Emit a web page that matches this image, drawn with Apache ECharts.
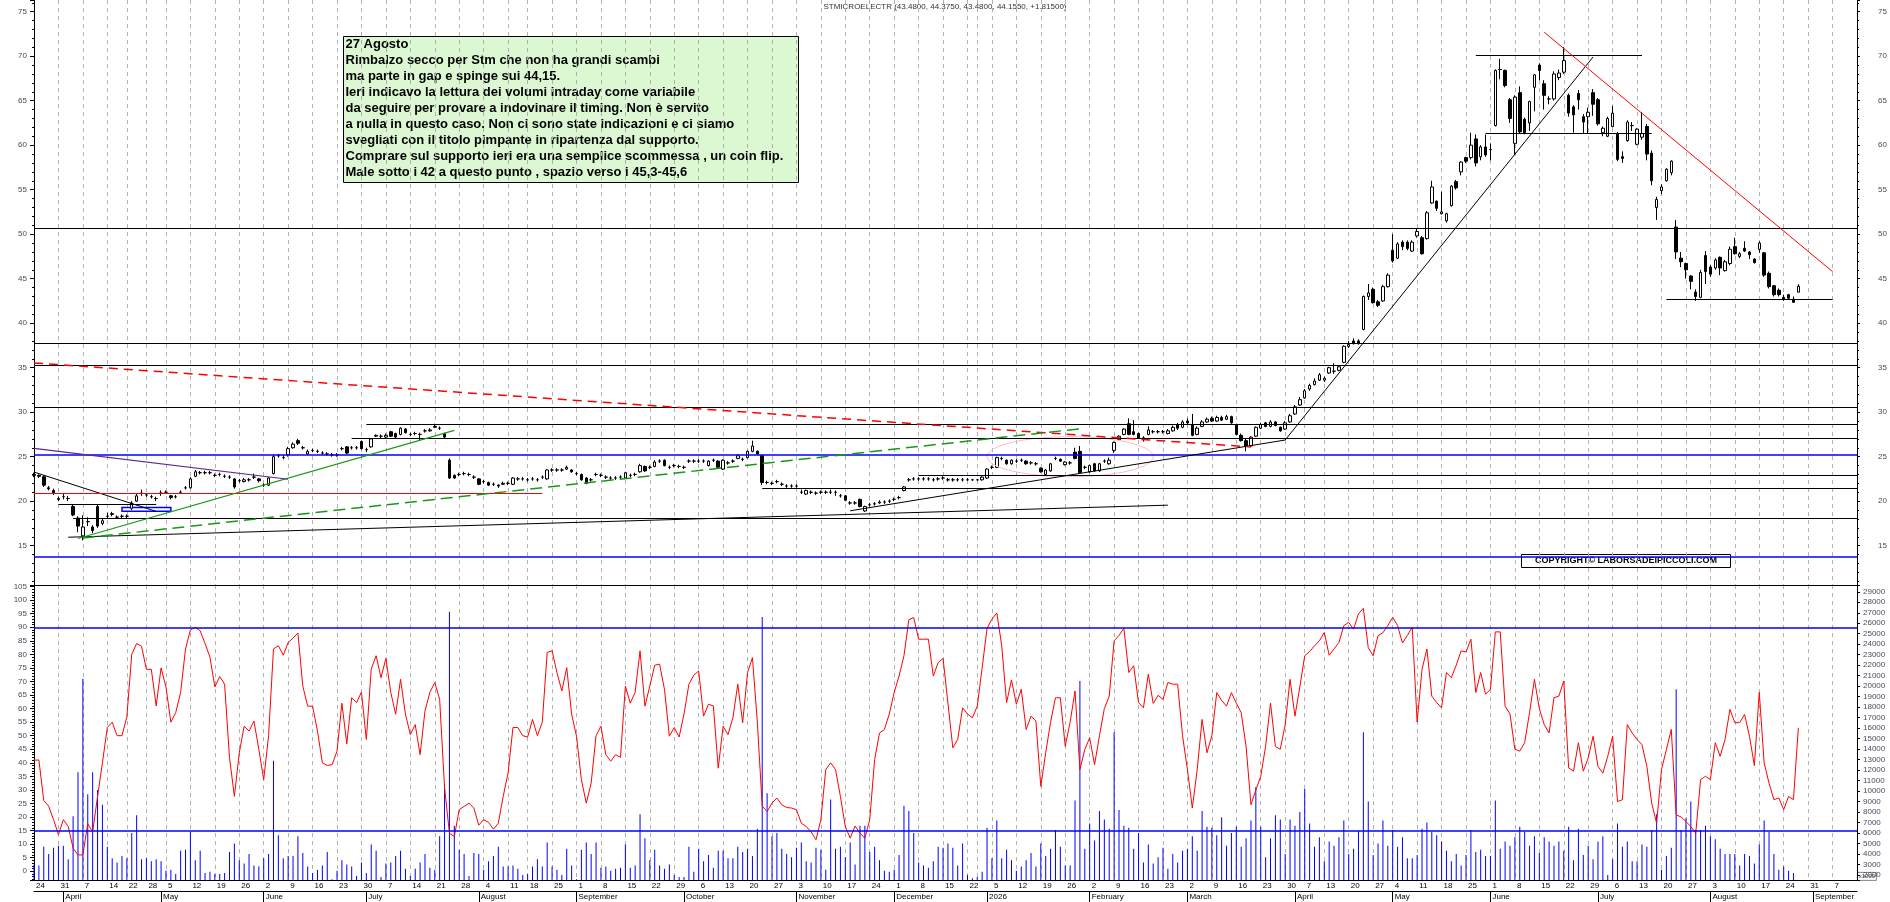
<!DOCTYPE html>
<html>
<head>
<meta charset="utf-8">
<title>STMICROELECTR</title>
<script src="https://cdn.jsdelivr.net/npm/echarts@6/dist/echarts.min.js"></script>
<style>
html, body { margin: 0; padding: 0; background: #fff; }
#chart { width: 1890px; height: 902px; }
</style>
</head>
<body>
<div id="chart"></div>
<script>
'use strict'
// trading calendar
var firstDay = [2025, 2, 24];
var lastDay = [2026, 8, 14];
var holidays = ['2025-04-18', '2025-04-21', '2025-05-01', '2025-08-15', '2025-12-24', '2025-12-25',
    '2025-12-26', '2025-12-31', '2026-01-01', '2026-04-03', '2026-04-06', '2026-05-01'];
var monthNames = ['January', 'February', 'March', 'April', 'May', 'June', 'July', 'August',
    'September', 'October', 'November', 'December'];

// daily candles: open, close, low, high
var price2025 = [
    [23.0,22.9,22.7,23.2],[22.9,22.8,22.6,23.0],[22.75,21.8,21.6,22.9],[21.5,21.4,21.2,21.7],[21.2,20.9,20.7,21.4],
    [20.3,20.2,20.0,20.5],[20.5,20.5,20.2,20.8],[20.3,20.3,20.0,20.6],[19.4,18.45,18.3,19.6],[18.1,17.2,16.5,18.3],
    [16.1,17.1,15.6,18.4],[17.7,17.7,17.2,18.2],[17.1,16.7,16.4,17.3],[19.4,17.2,17.0,19.6],[17.5,17.8,17.3,18.0],
    [18.3,18.3,18.0,18.7],[18.5,18.6,18.3,18.8],[18.2,18.2,18.0,18.4],[18.3,18.3,18.1,18.5],[18.3,18.3,18.1,18.5],
    [19.2,19.8,19.0,20.0],[20.0,20.6,19.9,20.8],[20.9,20.9,20.6,21.3],[20.7,20.7,20.5,20.9],[20.5,20.5,20.3,20.7],
    [20.3,20.3,20.0,20.5],[20.9,20.9,20.6,21.2],[21.0,21.0,20.8,21.2],[20.6,20.4,20.2,20.7],[20.5,20.5,20.3,20.7],
    [21.0,21.0,20.8,21.2],[21.5,21.5,21.3,21.7],[21.5,22.5,21.4,22.7],[22.8,23.3,22.7,23.5],[23.2,23.2,23.0,23.4],
    [23.2,23.2,23.0,23.4],[23.2,23.2,23.0,23.4],[22.9,22.9,22.7,23.1],[23.0,23.0,22.8,23.2],[22.8,22.8,22.6,23.0],
    [22.7,22.7,22.5,22.9],[22.5,21.6,21.4,22.6],[22.3,22.3,22.1,22.5],[22.2,22.4,22.1,22.6],[22.4,22.4,22.2,22.6],
    [22.7,22.7,22.5,23.1],[22.5,22.3,22.1,22.6],[21.8,21.8,21.6,22.0],[21.8,22.6,21.7,22.7],[23.1,25.0,23.0,25.2],
    [25.1,25.1,24.9,25.3],[24.9,24.9,24.7,25.2],[25.2,25.9,25.0,26.1],[26.0,26.4,25.9,26.6],[26.8,26.5,26.3,27.0],
    [26.0,26.0,25.8,26.2],[25.3,25.6,25.2,25.8],[25.7,25.7,25.5,25.9],[25.6,25.6,25.4,25.8],[25.4,25.4,25.2,25.6],
    [25.3,25.3,25.1,25.5],[25.2,25.2,25.0,25.4],[25.2,25.2,25.0,25.4],[25.9,25.9,25.7,26.1],[26.1,25.4,25.3,26.2],
    [26.0,26.0,25.8,26.2],[26.0,26.0,25.8,26.2],[26.7,25.9,25.8,26.8],[25.8,25.8,25.5,26.0],[26.1,27.0,26.0,27.1],
    [27.3,27.4,27.2,27.5],[27.3,27.3,27.1,27.5],[27.2,27.4,27.1,27.6],[27.8,27.3,27.2,27.9],[27.6,27.2,27.1,27.7],
    [27.5,28.2,27.4,28.3],[28.1,27.7,27.6,28.2],[27.5,27.5,27.3,27.7],[27.6,27.6,27.4,27.8],[27.5,27.5,26.8,27.7],
    [27.9,27.9,27.7,28.1],[27.9,28.0,27.8,28.2],[28.3,28.4,28.2,28.7],[28.2,28.2,28.0,28.4],[27.6,27.2,27.1,27.7],
    [24.6,22.6,22.5,24.8],[22.9,22.6,22.5,23.0],[23.0,23.0,22.8,23.2],[23.1,23.1,22.9,23.3],[23.0,23.0,22.8,23.2],
    [22.7,22.7,22.5,22.9],[22.5,21.9,21.8,22.6],[22.2,22.2,22.0,22.4],[22.1,21.8,21.7,22.2],[21.9,21.9,21.7,22.1],
    [21.8,21.7,21.5,21.9],[21.9,22.0,21.8,22.2],[22.0,22.0,21.8,22.2],[21.9,22.6,21.8,22.7],[22.5,22.5,22.3,22.7],
    [22.5,22.5,22.3,22.7],[22.4,22.4,22.2,22.6],[22.5,22.5,22.3,22.7],[22.4,22.4,22.2,22.6],[22.7,22.7,22.5,22.9],
    [22.5,23.5,22.4,23.6],[23.5,23.5,23.3,23.7],[23.5,23.5,23.3,23.7],[23.5,23.5,23.3,23.7],[23.6,23.8,23.5,24.0],
    [23.5,23.3,23.2,23.6],[23.1,23.1,22.9,23.3],[23.0,22.4,22.3,23.1],[22.6,22.0,21.9,22.7],[22.4,22.4,22.2,22.6],
    [23.0,23.0,22.8,23.2],[22.9,22.9,22.7,23.1],[22.7,22.7,22.5,22.9],[22.6,22.6,22.4,22.8],[22.6,22.6,22.4,22.8],
    [22.7,22.7,22.5,22.9],[22.6,23.2,22.5,23.3],[22.9,22.9,22.7,23.1],[23.0,23.0,22.8,23.2],[23.3,24.0,23.2,24.2],
    [23.9,23.4,23.3,24.0],[23.8,23.8,23.6,24.0],[23.9,24.4,23.8,24.6],[24.5,24.5,24.3,24.7],[24.6,24.0,23.9,24.7],
    [23.8,23.8,23.6,24.0],[24.0,24.0,23.8,24.2],[23.9,23.9,23.7,24.1],[23.8,23.8,23.6,24.0],[24.5,24.5,24.3,24.7],
    [24.5,24.5,24.3,24.7],[24.5,24.5,24.3,24.7],[24.5,24.5,24.3,24.7],[24.0,24.5,23.9,24.6],[24.6,24.6,24.4,24.8],
    [24.5,23.8,23.7,24.6],[23.6,24.6,23.5,24.7],[24.3,24.3,24.1,24.5],[24.5,24.5,24.3,24.7],[24.8,25.1,24.7,25.3],
    [24.7,24.7,24.5,24.9],[24.9,25.6,24.8,25.7],[25.6,26.2,25.5,26.8],[25.6,25.3,25.2,25.7],[25.1,22.1,21.8,25.2],
    [22.1,22.1,21.9,22.3],[22.0,22.0,21.8,22.2],[22.2,22.2,22.0,22.4],[21.9,21.9,21.7,22.1],[21.7,21.7,21.5,21.9],
    [21.7,21.7,21.5,21.9],[21.7,21.7,21.5,21.9],[21.0,21.0,20.8,21.3],[20.8,21.2,20.7,21.3],[21.0,21.0,20.8,21.2],
    [20.9,20.9,20.7,21.1],[21.0,21.0,20.8,21.2],[21.0,21.0,20.8,21.2],[21.0,21.0,20.8,21.3],[21.0,21.0,20.6,21.2],
    [20.6,20.6,20.4,20.8],[20.6,20.1,20.0,20.7],[19.8,19.8,19.6,20.0],[19.8,19.8,19.6,20.0],[20.2,19.4,19.3,20.3],
    [18.9,19.4,18.8,19.5],[19.6,19.6,19.4,19.8],[19.7,19.7,19.5,19.9],[19.8,19.9,19.7,20.1],[19.9,19.9,19.7,20.1],
    [20.0,20.0,19.8,20.2],[20.2,20.2,20.0,20.4],[20.4,20.4,20.2,20.6],[21.2,21.6,21.1,21.7],[22.4,22.4,22.2,22.6],
    [22.5,22.5,22.3,22.7],[22.5,22.5,22.3,22.7],[22.5,22.5,22.3,22.7],[22.5,22.5,22.3,22.7],[22.4,22.4,22.2,22.6],
    [22.5,22.5,22.3,22.7],[22.6,22.6,22.4,22.8],[22.4,22.4,22.2,22.6],[22.4,22.4,22.2,22.6],[22.4,22.4,22.2,22.6],
    [22.4,22.4,22.2,22.6],[22.4,22.4,22.3,22.6],[22.4,22.4,22.3,22.5],[22.4,22.4,22.3,22.5],[22.4,22.7,22.3,22.8]
];
var price2026 = [
    [22.6,23.6,22.5,23.7],[23.8,23.8,23.6,24.0],[23.8,24.9,23.7,25.0],[24.8,24.8,24.6,25.0],[24.6,24.2,24.1,24.7],
    [24.2,24.6,24.1,24.7],[24.5,24.5,24.3,24.7],[24.6,24.6,24.4,24.8],[24.5,24.2,24.1,24.6],[24.3,24.3,24.1,24.5],
    [24.2,24.2,24.0,24.4],[23.7,23.3,23.2,23.8],[23.0,23.5,22.9,23.6],[23.4,24.2,23.3,24.3],[24.8,24.8,24.6,25.0],
    [24.7,24.5,24.4,24.8],[24.1,24.4,24.0,24.5],[24.3,24.3,24.1,24.5],[25.5,24.8,24.7,26.0],[25.6,23.2,23.1,26.2],
    [23.8,23.8,23.6,24.0],[23.3,24.0,23.2,24.1],[24.2,23.4,23.3,24.3],[23.4,24.2,23.3,24.3],[24.5,24.5,24.3,24.7],
    [24.2,24.6,24.1,24.9],[25.7,26.6,25.4,26.7],[26.9,27.3,26.8,27.4],[27.5,28.1,27.4,28.2],[28.7,27.5,27.4,29.3],
    [27.8,27.5,27.4,29.1],[27.6,27.1,27.0,27.7],[27.1,27.1,26.7,27.3],[27.5,28.0,27.4,28.4],[27.8,27.8,27.6,28.0],
    [27.8,27.8,27.6,28.0],[27.8,27.8,27.6,28.0],[27.6,27.9,27.5,28.1],[27.9,28.3,27.8,28.5],[28.6,28.2,28.0,28.8],
    [28.3,28.9,28.2,29.1],[29.0,28.8,28.6,29.3],[28.6,27.4,27.3,29.8],[27.5,28.2,27.4,28.4],[28.4,28.9,28.3,29.1],
    [28.9,29.2,28.8,29.4],[29.3,29.0,28.9,29.5],[29.0,29.4,28.9,29.6],[29.4,29.1,29.0,29.6],[29.2,29.5,29.1,29.7],
    [29.5,28.8,28.7,29.6],[28.6,27.5,27.4,28.7],[27.4,26.8,26.7,27.6],[26.8,26.2,25.6,27.0],[26.2,27.2,26.1,27.3],
    [27.3,28.3,27.2,28.4],[28.2,28.6,28.1,28.8],[28.8,28.4,28.3,28.9],[28.4,28.9,28.3,29.1],[28.9,28.5,28.4,29.0],
    [28.3,27.9,27.8,28.4],[28.1,28.8,28.0,29.0],[28.9,29.6,28.8,29.8],[29.8,30.6,29.7,30.8],[30.8,31.4,30.7,31.7],
    [31.6,32.4,31.5,32.6],[32.6,33.0,32.4,33.2],[33.1,33.5,33.0,33.8],[33.6,34.2,33.5,34.4],[33.6,33.8,33.4,34.0],
    [34.4,35.0,34.3,35.1],[34.6,34.6,34.3,35.5],[34.7,35.1,34.6,35.2],[35.6,37.4,35.5,37.5],[37.4,37.6,37.2,38.0],
    [38.0,37.7,37.6,38.3],[38.0,37.7,37.6,38.2],[39.3,43.0,39.2,43.1],[43.0,43.4,42.6,44.4],[43.8,42.3,42.2,44.0],
    [42.4,42.0,41.8,42.6],[42.5,44.1,42.4,44.3],[44.1,45.4,44.0,45.6],[48.2,47.0,46.8,50.0],[47.3,48.9,47.2,49.1],
    [49.1,48.6,48.2,49.3],[49.1,48.4,48.2,49.3],[48.1,49.1,48.0,49.3],[49.8,50.3,49.6,50.6],[49.6,47.8,47.7,49.8],
    [49.5,52.4,49.4,52.6],[53.5,55.3,53.4,56.0],[53.7,52.9,52.6,53.8],[52.3,52.5,52.2,54.8],[51.5,52.3,51.3,52.4],
    [53.2,55.4,53.1,55.5],[55.9,55.2,55.0,56.1],[57.0,58.1,56.6,58.2],[58.6,58.2,58.0,58.7],[58.6,60.0,58.4,61.4],
    [60.7,58.0,57.6,61.2],[58.7,59.8,58.3,60.0],[59.8,58.9,58.7,61.2],[59.5,59.5,58.3,60.2],[62.2,68.4,62.1,68.5],
    [68.5,68.5,67.4,69.7],[68.4,66.7,66.5,68.5],[65.1,63.0,62.5,65.3],[60.2,65.4,58.9,65.6],[65.9,61.5,61.3,66.6],
    [62.9,61.4,61.2,63.1],[62.5,64.9,61.6,65.0],[66.5,67.9,63.8,68.0],[69.0,68.4,67.3,69.2],[66.9,65.6,64.0,67.3],
    [65.2,65.2,64.6,65.5],[65.2,68.0,65.0,68.3],[67.6,68.1,67.3,68.5],[68.2,69.5,68.0,71.0],[65.6,63.6,63.2,65.8],
    [64.3,63.4,61.4,64.5],[65.8,65.1,64.0,66.2],[63.2,62.6,61.3,63.5],[63.2,63.7,61.3,64.2],[65.9,64.6,63.3,66.3],
    [65.1,62.4,62.2,65.3],[61.4,61.9,61.0,62.1],[61.0,63.0,60.9,63.2],[62.1,63.6,62.0,64.4],[61.3,58.4,58.2,61.5],
    [58.7,58.5,58.0,59.3],[60.5,62.6,60.4,62.8],[62.2,62.2,61.6,62.6],[60.1,61.8,60.0,61.9],[60.9,61.3,60.6,63.7],
    [62.1,59.0,58.3,62.4],[59.1,56.0,55.5,59.4],[53.0,53.9,51.6,54.2],[54.9,55.3,54.5,55.6],[56.0,57.3,55.9,57.4],
    [56.9,58.2,56.6,58.3],[50.8,48.0,47.2,51.6],[47.3,46.9,46.3,48.0],[46.7,46.0,45.0,46.8],[45.3,44.7,43.8,45.4],
    [43.5,43.0,42.5,43.8],[42.9,45.7,42.8,46.0],[47.6,45.8,44.4,48.1],[46.3,45.5,45.2,46.5],[46.2,47.1,46.0,47.3],
    [47.4,46.2,45.4,47.5],[45.9,46.9,45.8,47.1],[46.7,48.3,46.5,48.6],[48.6,47.8,47.7,49.6],[47.5,47.8,47.3,48.0],
    [48.4,48.1,48.0,49.2],[48.0,47.7,47.2,48.1],[47.2,46.8,46.7,47.3],[48.3,49.0,47.9,49.2],[47.9,45.4,45.2,48.0],
    [45.6,44.1,43.9,45.8],[44.2,43.2,43.0,44.3],[43.7,43.2,43.0,43.9],[42.9,42.7,42.5,43.2],[43.2,42.8,42.6,43.3],
    [42.7,42.34,42.3,43.0],[43.48,44.155,43.48,44.375]
];

// volume (x1000)
var vol2025 = [
    3000,2900,4700,4000,4600,4800,4800,3500,7600,11800, 20700,9700,11800,10100,8700,4700,3600,3200,3800,3600,
    6000,7700,3500,3600,3300,3500,3300,2400,2500,2100, 4300,4400,6100,3400,4300,2200,2300,2100,2100,2200,
    4200,5000,3400,3100,4000,2900,2800,3600,4000,12900, 5800,3600,3800,3800,5700,4100,2800,2200,2500,2900,
    4200,1600,2400,3400,3000,2800,1900,3200,2200,4900, 4300,1800,3100,3200,3800,4300,2600,1900,2600,3200,
    4000,2700,2500,5700,10700,27100,6700,4400,4000,1900, 4100,4000,2500,3300,3800,4700,2800,2800,2900,2600,
    2000,2100,2800,3500,2800,5100,2800,2500,2000,4500, 2900,1600,4400,5100,4000,5100,2700,2800,2400,2600,
    2700,4900,2700,2900,7800,5500,3400,4400,2900,2600, 3000,2000,1800,1800,4700,2300,4500,3300,3900,2700,
    4300,4300,3600,3600,4700,4200,4500,3800,6400,26600, 9800,5700,6000,4500,4000,3700,4600,5100,3300,3200,
    4600,4400,2500,9200,4500,4700,3700,5100,3000,6700, 6700,4200,4700,3400,2400,2300,2500,3900,8600,8100,
    6000,3200,2900,2700,3300,4700,4600,5000,4600,2900, 5000,2000,1700,1800,2300
];
var vol2026 = [
    6500,3600,7200,3600,4400, 3400,2400,2800,3400,4100,2800,5000,3800,4500,6300,
    4700,2900,2900,9100,20500,4500,6900,5300,8100,7300, 6400,15600,8200,6700,6500,4500,6000,3200,4900,3100,
    3700,4600,2600,4000,3200,4300,4500,5700,4300,8100, 6600,6500,5800,7500,4800,6000,6600,4700,5500,7200,
    10400,6600,3700,5500,7700,7300,4000,7300,6700,8000, 10200,6900,4700,5600,3300,5200,4800,5600,7200,4000,
    4500,6200,15600,9000,3900,5000,7200,4800,6300,4700, 5600,3600,3600,3900,6400,7000,6100,5800,5200,4300,
    3300,4000,2900,3900,6300,4200,4400,3800,3800,9100, 4500,5200,4800,5600,6600,6100,4800,5700,4100,5600,
    5200,4800,5200,4300,6600,3400,6400,3900,4800,3500, 5200,5700,2000,3500,6900,4700,5200,3300,3300,4900,
    4700,6300,7800,2500,3800,4600,19700,6300,7400,9000, 6300,6300,6700,5700,5400,4500,4000,4000,4000,2900,
    4000,3800,3100,4900,7200,6100,4000,2500,2800,2400, 2200
];

// red oscillator, 0-100
var osc2025 = [
    41,41,26,24,19,13.5,19,16.5,8.5,6, 6,17.5,14.5,27.5,40,53,55,50,50,57,
    80,84,83,74.5,74.5,61,75,68,55,58.5, 66,82,89,90,88.7,84,79,68,71.8,69,
    42,27.6,43.7,53.5,51.7,55.4,45,33.8,50,82, 83.2,79.7,84.4,86,87.9,68.3,60.9,60.9,51.7,40,
    39,39.3,44.3,62,47,64,62.2,66.1,48.6,74.5, 79.5,71.4,78.5,66,57.9,70.8,57.9,50.4,54.1,43,
    59.1,66,69.6,63.4,31,14,12.8,22.7,23.9,25.1, 23.3,17,19,18,15.5,17.7,27.6,36.2,53,53,
    50,49.5,56,50,55,80.7,81.3,73.3,66.5,75.1, 58,49.8,33.8,25.1,32.5,50,53.5,43,40.6,43,
    42,68.3,62,66,81.3,60.9,68.3,76,76.4,67.1, 49.8,53,49.5,58,69,72.3,73.9,57.2,61.6,61,
    38,53.5,50.4,56.6,69,54.8,73.3,78.8,55,24, 22,25.1,27,24.5,23.5,23.3,22.7,17.7,16.5,14.5,
    11.6,19,37.5,40,37.5,27.6,16.5,12.2,16.7,14, 12.2,19,41.2,51,52.3,58,66,72,79.5,92.8,
    93.6,85.6,85.6,85.6,72,77,78.5,62,45.5,48.6, 60.3,58,56.6,60.9,75
];
var osc2026 = [
    89.6,93,95.3,83.2,62.2, 70.6,61.6,67.1,52.3,57.2,55.4,31.3,43.7,55,64,
    64,46.1,55,66.5,37.5,44.9,49.2,39.3,50,60, 64.6,85,87,89.6,73.3,75.8,62.2,60.3,72.7,61.9,
    64.9,63.4,69.6,69,69,50,37.5,23.3,37.5,56, 43.7,50,65.9,63,60.9,65.9,62,58.5,46.1,24.5,
    30,35,46.1,62,46,45,54,70.8,57.2,68, 79.5,81,83.2,85,88.1,79.7,82,84.4,90.6,91.8,
    89.3,95,97,82.5,79.5,86.9,88,90.6,93.7,90.6, 84.2,87,90,55,74.5,82,64.6,62.2,60.3,73.3,
    71.4,76,81.3,80.9,85.6,65.9,73.3,65.3,67.1,88.3, 88.3,60.9,58,45,44.3,47.4,58.5,70.8,60,54.1,
    51,64,64.6,70.2,38.1,36.9,47.4,36.9,41.8,49.8, 38.7,36.2,42.4,49.8,25.7,26.4,54.1,51,48.6,46.7,
    38.7,25.1,17.7,37.5,44.9,52.3,20.8,20,18.3,16.5, 14,33.8,35,33.8,47.4,42.4,48.6,59.7,54.8,54.8,
    57.8,49.8,39,66,40,32.5,26.4,27,22.7,27.6, 26.4,52.9
];

// drawn levels and trend lines (bar index, price)
var blackLevels = [50.66, 37.74, 35.3, 30.55];
var blueLevels = [25.27, 13.77];
var oscLevels = [90, 15];
var blackSegments = [
    [68, 28.67, 373, 28.67], [65, 27.07, 373, 27.07], [181.3, 22.91, 373, 22.91], [149.2, 21.45, 373, 21.45],
    [8, 18.1, 373, 18.1], [294.6, 70.1, 329, 70.1], [296.7, 61.33, 330.9, 61.33], [333.7, 42.66, 367.9, 42.66],
    [5, 19.65, 25, 19.65]
];
var blackTrends = [[7, 15.95, 231.7, 19.55], [0.25, 23.27, 25.1, 18.85], [167.3, 18.92, 256.4, 26.87],
    [256.4, 26.87, 319, 69.91]];
var redTrends = [[309.4, 72.69, 367.9, 45.79], [0.2, 20.89, 104.2, 20.89]];
var redDashed = [[0.45, 35.53, 249.4, 26.09]];
var greenTrends = [[9, 15.8, 85.5, 27.95]];
var greenDashed = [[9.5, 15.86, 215.1, 28.19]];
var purpleTrends = [[0.25, 25.94, 52.4, 22.46]];
var blueBox = [17.8, 19.3, 28.1, 18.87];
var pinkZone = [194.6, 27.25, 229.4, 22.75];

var noteLines = [
    '27 Agosto',
    'Rimbalzo secco per Stm che non ha grandi scambi',
    'ma parte in gap e spinge sui 44,15.',
    'Ieri indicavo la lettura dei volumi intraday come variabile',
    'da seguire per provare a indovinare il timing. Non è servito',
    'a nulla in questo caso. Non ci sono state indicazioni e ci siamo',
    'svegliati con il titolo pimpante in ripartenza dal supporto.',
    'Comprare sul supporto ieri era una semplice scommessa , un coin flip.',
    'Male sotto i 42 a questo punto , spazio verso i 45,3-45,6'
];
var titleText = 'STMICROELECTR (43.4800, 44.3750, 43.4800, 44.1550, +1.81500)';
var copyrightText = 'COPYRIGHT\u00a9 LABORSADEIPICCOLI.COM';

// build the list of trading days
var days = [];
var d = new Date(Date.UTC(firstDay[0], firstDay[1], firstDay[2]));
var endTime = Date.UTC(lastDay[0], lastDay[1], lastDay[2]);
while (d.getTime() <= endTime) {
    var wd = d.getUTCDay();
    var iso = d.toISOString().slice(0, 10);
    if (wd !== 0 && wd !== 6 && holidays.indexOf(iso) < 0) days.push(iso);
    d.setUTCDate(d.getUTCDate() + 1);
}
function mondayOf(s) {
    var t = new Date(s + 'T00:00:00Z');
    t.setUTCDate(t.getUTCDate() - (t.getUTCDay() + 6) % 7);
    return t.getTime();
}
function isWeekStart(i) {
    return i === 0 || mondayOf(days[i]) !== mondayOf(days[i - 1]);
}
function isMonthStart(i) {
    return i > 0 && days[i].slice(0, 7) !== days[i - 1].slice(0, 7);
}
// a week label is dropped when the previous one is too close (short holiday weeks)
function showDayLabel(i) {
    if (!isWeekStart(i) || i >= days.length - 1) return false;
    for (var j = i - 1; j >= 0 && j > i - 3; j--) {
        if (isWeekStart(j)) return false;
    }
    return true;
}

var prices = price2025.concat(price2026);
var volumes = vol2025.concat(vol2026);
var osc = osc2025.concat(osc2026);

var black = {color: '#000', width: 1.2, type: 'solid'};
var blackThin = {color: '#000', width: 1, type: 'solid'};
var blue = {color: '#0000ff', width: 1.6, type: 'solid'};
var red = {color: '#ff0000', width: 1, type: 'solid'};
var redDash = {color: '#ff0000', width: 1.5, type: [9, 6]};
var green = {color: '#169a16', width: 1.2, type: 'solid'};
var greenDash = {color: '#169a16', width: 1.5, type: [12, 6]};
var purple = {color: '#5b2a8e', width: 1.2, type: 'solid'};

function segs(list, style) {
    return list.map(function (s) {
        return [{coord: [s[0], s[1]], lineStyle: style}, {coord: [s[2], s[3]]}];
    });
}
var priceLines = []
    .concat(blackLevels.map(function (v) { return {yAxis: v, lineStyle: black}; }))
    .concat(blueLevels.map(function (v) { return {yAxis: v, lineStyle: blue}; }))
    .concat(segs(blackSegments, black))
    .concat(segs(blackTrends, blackThin))
    .concat(segs(redTrends, red))
    .concat(segs(redDashed, redDash))
    .concat(segs(greenTrends, green))
    .concat(segs(greenDashed, greenDash))
    .concat(segs(purpleTrends, purple));

var font = 'Liberation Sans, Arial, sans-serif';
var labelColor = '#4a4a5c';
var gridDash = {show: true, lineStyle: {color: '#b0b0b0', type: [4, 4], width: 1}};

function every(step) {
    return function (v) {
        var r = Math.round(v / step) * step;
        return Math.abs(v - r) < 1e-6 ? String(r) : '';
    };
}

var chart = echarts.init(document.getElementById('chart'));
chart.setOption({
    animation: false,
    textStyle: {fontFamily: font},
    grid: [
        {left: 34, right: 33, top: 0, height: 585},
        {left: 34, right: 33, top: 585, height: 295}
    ],
    xAxis: [
        {
            type: 'category', gridIndex: 0, data: days, boundaryGap: false, position: 'bottom',
            axisLine: {onZero: false, lineStyle: {color: '#000', width: 1.2}},
            axisTick: {show: false}, axisLabel: {show: false},
            splitLine: Object.assign({interval: function (i) { return isWeekStart(i); }}, gridDash)
        },
        {
            type: 'category', gridIndex: 1, data: days, boundaryGap: false, position: 'bottom',
            axisLine: {onZero: false, lineStyle: {color: '#000', width: 1.2}},
            axisTick: {show: false},
            axisLabel: {
                interval: function (i) { return showDayLabel(i); },
                formatter: function (v) { return String(+v.slice(8, 10)); },
                align: 'left', padding: [0, 0, 0, 2], margin: 2,
                fontSize: 8, color: '#000'
            },
            splitLine: Object.assign({interval: function (i) { return isWeekStart(i); }}, gridDash)
        },
        {
            type: 'category', gridIndex: 1, data: days, boundaryGap: false, position: 'bottom', offset: 11,
            axisLine: {onZero: false, lineStyle: {color: '#000', width: 1.2}},
            axisTick: {show: true, length: 11, interval: function (i) { return isMonthStart(i); },
                lineStyle: {color: '#000', width: 1}},
            axisLabel: {
                interval: function (i) { return isMonthStart(i); },
                formatter: function (v) {
                    var m = +v.slice(5, 7) - 1;
                    return m === 0 ? v.slice(0, 4) : monthNames[m];
                },
                align: 'left', padding: [0, 0, 0, 2], margin: 2,
                fontSize: 8, color: '#000'
            },
            splitLine: {show: false}
        }
    ],
    yAxis: [
        {
            type: 'value', gridIndex: 0, position: 'left', min: 10.58, max: 76.31, splitNumber: 13,
            axisLine: {show: true, lineStyle: {color: '#000'}},
            axisTick: {show: true, length: 4, lineStyle: {color: '#000'}},
            minorTick: {show: true, splitNumber: 5, length: 2, lineStyle: {color: '#000'}},
            axisLabel: {formatter: every(5), fontSize: 8, color: labelColor, margin: 7},
            splitLine: {show: false}
        },
        {
            type: 'value', gridIndex: 0, position: 'right', min: 10.58, max: 76.31, splitNumber: 13,
            axisLine: {show: true, lineStyle: {color: '#000'}},
            axisTick: {show: true, length: 3, lineStyle: {color: '#000'}},
            minorTick: {show: true, splitNumber: 5, length: 2, lineStyle: {color: '#000'}},
            axisLabel: {formatter: every(5), fontSize: 8, color: labelColor, margin: 21},
            splitLine: {show: false}
        },
        {
            type: 'value', gridIndex: 1, position: 'left', min: -3.25, max: 105.6, splitNumber: 22,
            axisLine: {show: true, lineStyle: {color: '#000'}},
            axisTick: {show: true, length: 4, lineStyle: {color: '#000'}},
            minorTick: {show: true, splitNumber: 5, length: 2, lineStyle: {color: '#000'}},
            axisLabel: {formatter: every(5), fontSize: 8, color: labelColor, margin: 7},
            splitLine: {show: false}
        },
        {
            type: 'value', gridIndex: 1, position: 'right', min: 1523, max: 29646, splitNumber: 28,
            axisLine: {show: true, lineStyle: {color: '#000'}},
            axisTick: {show: true, length: 3, lineStyle: {color: '#000'}},
            axisLabel: {formatter: every(1000), fontSize: 8, color: labelColor, margin: 6},
            splitLine: {show: false}
        }
    ],
    series: [
        {
            name: 'STM', type: 'candlestick', xAxisIndex: 0, yAxisIndex: 0,
            data: prices, barWidth: 3,
            itemStyle: {color: '#ffffff', color0: '#000000', borderColor: '#000000', borderColor0: '#000000', borderWidth: 1},
            markLine: {
                silent: true, symbol: 'none', label: {show: false}, animation: false,
                data: priceLines
            },
            markArea: {
                silent: true, label: {show: false},
                data: [[
                    {coord: [blueBox[0], blueBox[1]],
                        itemStyle: {color: 'rgba(0,0,0,0)', borderColor: '#0000ff', borderWidth: 1.5}},
                    {coord: [blueBox[2], blueBox[3]]}
                ]]
            },
            z: 3
        },
        {
            name: 'Volume', type: 'bar', xAxisIndex: 1, yAxisIndex: 3,
            data: volumes, barWidth: 1, itemStyle: {color: '#0000ff'}, z: 2
        },
        {
            name: 'Oscillator', type: 'line', xAxisIndex: 1, yAxisIndex: 2,
            data: osc, symbol: 'none', lineStyle: {color: '#ff0000', width: 1}, z: 3,
            markLine: {
                silent: true, symbol: 'none', label: {show: false}, animation: false,
                lineStyle: blue,
                data: oscLevels.map(function (v) { return {yAxis: v}; })
            }
        }
    ],
    graphic: [
        {type: 'text', left: 'center', top: 3, style: {text: titleText, font: '8px ' + font, fill: '#333'}},
        {
            type: 'group', left: 343, top: 36,
            children: [
                {type: 'rect', shape: {x: 0, y: 0, width: 455, height: 146},
                    style: {fill: '#dcf8d2', stroke: '#000', lineWidth: 1}}
            ].concat(noteLines.map(function (t, k) {
                return {type: 'text', x: 2, y: 1 + k * 16,
                    style: {text: t, font: 'bold 13px "Liberation Sans Narrow", "Arial Narrow", "Liberation Sans", sans-serif', fill: '#000'}};
            }))
        },
        {
            type: 'group', left: 1521, top: 554,
            children: [
                {type: 'rect', shape: {x: 0, y: 0, width: 209, height: 13}, style: {fill: '#fff', stroke: '#000', lineWidth: 1}},
                {type: 'text', x: 104.5, y: 2, style: {text: copyrightText, font: 'bold 9px ' + font, fill: '#000', align: 'center'}}
            ]
        },
        {
            type: 'group', left: 1857, top: 872,
            children: [
                {type: 'rect', shape: {x: 0, y: 0, width: 19, height: 8}, style: {fill: '#fff', stroke: '#666', lineWidth: 0.8}},
                {type: 'text', x: 9.5, y: 1, style: {text: 'x1000', font: '6px ' + font, fill: '#333', align: 'center'}}
            ]
        }
    ]
});

// pink ellipse around the January-February consolidation
var p1 = chart.convertToPixel({xAxisIndex: 0, yAxisIndex: 0}, [pinkZone[0], pinkZone[1]]);
var p2 = chart.convertToPixel({xAxisIndex: 0, yAxisIndex: 0}, [pinkZone[2], pinkZone[3]]);
chart.setOption({
    graphic: [{
        id: 'zone', type: 'ellipse', silent: true, z: 5,
        shape: {cx: (p1[0] + p2[0]) / 2, cy: (p1[1] + p2[1]) / 2,
            rx: Math.abs(p2[0] - p1[0]) / 2, ry: Math.abs(p2[1] - p1[1]) / 2},
        style: {fill: 'none', stroke: '#ffb8c8', lineWidth: 1}
    }]
});
</script>
</body>
</html>
